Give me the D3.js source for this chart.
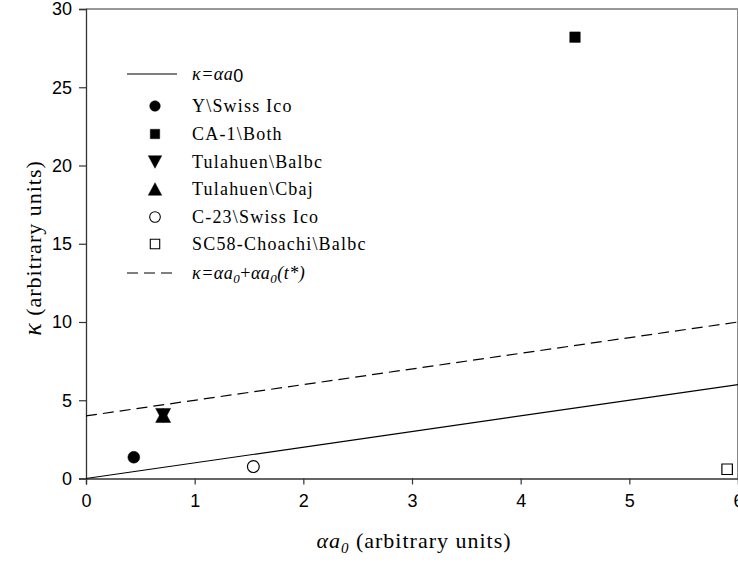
<!DOCTYPE html>
<html>
<head>
<meta charset="utf-8">
<script src="https://cdn.jsdelivr.net/npm/d3@7"></script>
<style>
  body { margin: 0; background: #fff; }
</style>
</head>
<body>
<div id="chart"></div>
<script>
// data
const series = ["Y\\Swiss Ico", "CA-1\\Both", "Tulahuen\\Balbc", "Tulahuen\\Cbaj", "C-23\\Swiss Ico", "SC58-Choachi\\Balbc"];
const symbols = ["circle", "square", "down", "up", "circle", "square"];
const filled = [true, true, true, true, false, false];
const xValues = [0.44, 4.50, 0.71, 0.71, 1.54, 5.90];
const yValues = [1.36, 28.2, 4.03, 4.03, 0.76, 0.59];

const lineX = [0, 6];
const solidY = [0, 6];     // kappa = alpha a0
const dashedY = [4, 10];   // kappa = alpha a0 + alpha a0 (t*)

const xTicks = [0, 1, 2, 3, 4, 5, 6];
const yTicks = [0, 5, 10, 15, 20, 25, 30];

const width = 738, height = 563;
const margin = { left: 86, right: 0, top: 9, bottom: 84.5 };
const SERIF = '"Liberation Serif", "Times New Roman", serif';
const SANS = '"Liberation Sans", Arial, sans-serif';

const svg = d3.select("#chart").append("svg")
    .attr("width", width)
    .attr("height", height);

const x = d3.scaleLinear().domain([0, 6]).range([margin.left, width - margin.right]);
const y = d3.scaleLinear().domain([0, 30]).range([height - margin.bottom, margin.top]);

// frame
svg.append("line").attr("x1", x(0)).attr("x2", x(6)).attr("y1", y(30)).attr("y2", y(30))
    .attr("stroke", "#333").attr("stroke-width", 1.2);
svg.append("line").attr("x1", x(6) - 0.5).attr("x2", x(6) - 0.5).attr("y1", y(30)).attr("y2", y(0))
    .attr("stroke", "#888").attr("stroke-width", 1);

// axes
const xAxis = svg.append("g")
    .attr("transform", `translate(0,${y(0)})`)
    .call(d3.axisBottom(x).tickValues(xTicks).tickSize(6).tickPadding(10).tickFormat(d3.format("d")));
const yAxis = svg.append("g")
    .attr("transform", `translate(${x(0)},0)`)
    .call(d3.axisLeft(y).tickValues(yTicks).tickSize(7).tickPadding(7).tickFormat(d3.format("d")));
[xAxis, yAxis].forEach(a => {
    a.attr("font-family", SANS).attr("font-size", 18);
    a.selectAll(".tick text").attr("fill", "#000");
    a.select(".domain").attr("stroke", "#333").attr("stroke-width", 1.3);
    a.selectAll(".tick line").attr("stroke", "#333").attr("stroke-width", 1.2);
});

// lines
const line = d3.line().x(d => x(d[0])).y(d => y(d[1]));
svg.append("path")
    .attr("d", line(lineX.map((v, i) => [v, solidY[i]])))
    .attr("fill", "none").attr("stroke", "#000").attr("stroke-width", 1.2);
svg.append("path")
    .attr("d", line(lineX.map((v, i) => [v, dashedY[i]])))
    .attr("fill", "none").attr("stroke", "#000").attr("stroke-width", 1.2)
    .attr("stroke-dasharray", "11,6");

// markers (triangles centred on their box, like SigmaPlot)
function symPath(s) {
    if (s === "circle") return d3.symbol(d3.symbolCircle, 110)();
    if (s === "square") return d3.symbol(d3.symbolSquare, 110)();
    const w = 7.5, h = 7;
    if (s === "up") return `M0,${-h}L${w},${h}L${-w},${h}Z`;
    return `M0,${h}L${w},${-h}L${-w},${-h}Z`;
}
function drawMarker(g, s, f) {
    g.append("path")
        .attr("d", symPath(s))
        .attr("fill", f ? "#000" : "#fff")
        .attr("stroke", "#000")
        .attr("stroke-width", f ? 0.5 : 1.2);
}

svg.append("g").selectAll("g")
    .data(series)
    .join("g")
    .attr("transform", (d, i) => `translate(${x(xValues[i])},${y(yValues[i])})`)
    .each(function(d, i) { drawMarker(d3.select(this), symbols[i], filled[i]); });

// legend
const legend = svg.append("g")
    .style("font-family", SERIF)
    .style("font-size", "18px")
    .style("letter-spacing", "1.2px");
const lx1 = 127, lx2 = 177, mx = 155, tx = 192;
legend.append("line").attr("x1", lx1).attr("x2", lx2).attr("y1", 74).attr("y2", 74)
    .attr("stroke", "#000").attr("stroke-width", 1.2);
const t0 = legend.append("text").attr("x", tx).attr("y", 80).style("font-style", "italic").style("letter-spacing", "0.5px");
t0.append("tspan").text("κ=αa");
t0.append("tspan").attr("dy", 2).style("font-style", "normal").style("font-family", SANS).text("0");

const rowY = [106, 134, 162, 189, 217, 244];
series.forEach((s, i) => {
    const g = legend.append("g").attr("transform", `translate(${mx},${rowY[i]}) scale(0.9)`);
    drawMarker(g, symbols[i], filled[i]);
    legend.append("text").attr("x", tx).attr("y", rowY[i] + 6).text(s);
});

legend.append("line").attr("x1", lx1).attr("x2", lx2).attr("y1", 273).attr("y2", 273)
    .attr("stroke", "#000").attr("stroke-width", 1.2).attr("stroke-dasharray", "11,6");
const t1 = legend.append("text").attr("x", tx).attr("y", 279).style("font-style", "italic").style("letter-spacing", "0.5px");
t1.append("tspan").text("κ=αa");
t1.append("tspan").attr("dy", 4).style("font-size", "13px").text("0");
t1.append("tspan").attr("dy", -4).style("font-style", "normal").text("+");
t1.append("tspan").text("αa");
t1.append("tspan").attr("dy", 4).style("font-size", "13px").text("0");
t1.append("tspan").attr("dy", -4).text("(t*)");

// axis titles
const xt = svg.append("text")
    .attr("x", 414).attr("y", 548).attr("text-anchor", "middle")
    .style("font-family", SERIF).style("font-size", "22px").style("letter-spacing", "1px");
xt.append("tspan").style("font-style", "italic").text("αa");
xt.append("tspan").attr("dy", 5).style("font-style", "italic").style("font-size", "15px").text("0");
xt.append("tspan").attr("dy", -5).text(" (arbitrary units)");

const yt = svg.append("text")
    .attr("transform", "translate(41,248) rotate(-90)")
    .attr("text-anchor", "middle")
    .style("font-family", SERIF).style("font-size", "22px").style("letter-spacing", "1px");
yt.append("tspan").style("font-style", "italic").style("font-size", "26px").text("κ");
yt.append("tspan").text(" (arbitrary units)");
</script>
</body>
</html>
